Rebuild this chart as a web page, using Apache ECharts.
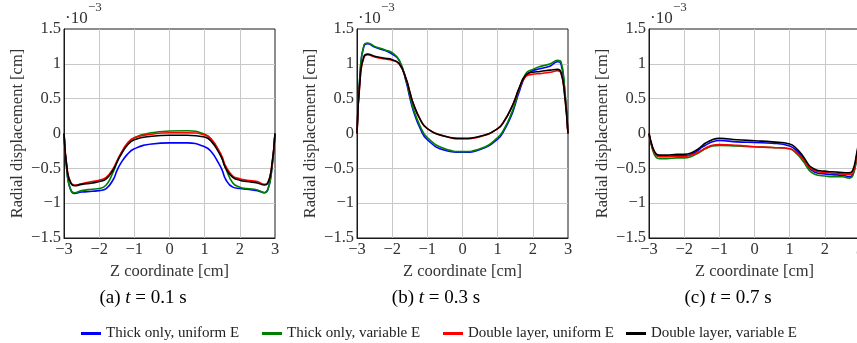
<!DOCTYPE html>
<html>
<head>
<meta charset="utf-8">
<script src="https://cdn.jsdelivr.net/npm/echarts@6/dist/echarts.min.js"></script>
<style>
html,body{margin:0;padding:0;background:#fff;}
#chart{width:857px;height:343px;}
</style>
</head>
<body>
<div id="chart"></div>
<script>
// Z coordinate samples [cm]
const zCoord = [-3, -2.9, -2.8, -2.7, -2.5, -2.2, -2, -1.8, -1.6, -1.5, -1.4, -1.2, -1, -0.5, 0, 0.5, 1, 1.2, 1.4, 1.5, 1.6, 1.8, 2, 2.2, 2.5, 2.7, 2.8, 2.9, 3];

// Radial displacement [1e-3 cm], panel (a) t = 0.1 s
const aThickUniform   = [0, -0.62, -0.82, -0.86, -0.84, -0.83, -0.82, -0.79, -0.66, -0.54, -0.44, -0.30, -0.22, -0.15, -0.135, -0.135, -0.19, -0.27, -0.43, -0.53, -0.66, -0.77, -0.79, -0.80, -0.82, -0.85, -0.80, -0.55, 0];
const aThickVariable  = [0, -0.62, -0.82, -0.85, -0.82, -0.80, -0.79, -0.74, -0.55, -0.42, -0.31, -0.15, -0.06, 0.01, 0.035, 0.04, -0.01, -0.09, -0.25, -0.36, -0.50, -0.71, -0.77, -0.79, -0.81, -0.85, -0.80, -0.55, 0];
const aDoubleUniform  = [0, -0.55, -0.71, -0.74, -0.72, -0.69, -0.67, -0.63, -0.50, -0.40, -0.30, -0.14, -0.06, -0.01, 0.01, 0.01, -0.02, -0.09, -0.24, -0.34, -0.47, -0.61, -0.65, -0.67, -0.69, -0.73, -0.70, -0.50, 0];
const aDoubleVariable = [0, -0.56, -0.72, -0.75, -0.73, -0.71, -0.69, -0.65, -0.52, -0.42, -0.32, -0.17, -0.09, -0.04, -0.025, -0.025, -0.05, -0.12, -0.27, -0.37, -0.50, -0.63, -0.67, -0.69, -0.71, -0.74, -0.71, -0.50, 0];

// panel (b) t = 0.3 s
const bThickUniform   = [0, 0.95, 1.26, 1.29, 1.24, 1.19, 1.14, 1.05, 0.74, 0.52, 0.33, 0.07, -0.09, -0.24, -0.27, -0.23, -0.08, 0.06, 0.27, 0.42, 0.58, 0.83, 0.90, 0.93, 0.97, 1.03, 1.00, 0.65, 0];
const bThickVariable  = [0, 0.96, 1.27, 1.30, 1.25, 1.20, 1.16, 1.05, 0.76, 0.55, 0.36, 0.10, -0.06, -0.22, -0.26, -0.22, -0.06, 0.08, 0.30, 0.44, 0.62, 0.86, 0.92, 0.96, 1.00, 1.05, 1.03, 0.68, 0];
const bDoubleUniform  = [0, 0.85, 1.10, 1.13, 1.10, 1.07, 1.05, 1.00, 0.78, 0.60, 0.43, 0.20, 0.07, -0.04, -0.075, -0.045, 0.07, 0.19, 0.38, 0.50, 0.63, 0.82, 0.85, 0.86, 0.88, 0.90, 0.87, 0.58, 0];
const bDoubleVariable = [0, 0.86, 1.11, 1.14, 1.11, 1.08, 1.06, 1.00, 0.78, 0.60, 0.43, 0.20, 0.07, -0.04, -0.07, -0.04, 0.07, 0.19, 0.38, 0.50, 0.64, 0.84, 0.88, 0.89, 0.91, 0.92, 0.88, 0.58, 0];

// panel (c) t = 0.7 s
const cThickUniform   = [0, -0.21, -0.31, -0.33, -0.33, -0.32, -0.32, -0.30, -0.24, -0.20, -0.17, -0.12, -0.10, -0.12, -0.13, -0.14, -0.18, -0.25, -0.37, -0.45, -0.52, -0.57, -0.58, -0.59, -0.60, -0.62, -0.58, -0.35, 0];
const cThickVariable  = [0, -0.23, -0.34, -0.36, -0.36, -0.35, -0.35, -0.33, -0.28, -0.25, -0.22, -0.18, -0.17, -0.18, -0.19, -0.20, -0.22, -0.29, -0.41, -0.49, -0.55, -0.60, -0.61, -0.62, -0.62, -0.64, -0.60, -0.38, 0];
const cDoubleUniform  = [0, -0.21, -0.31, -0.33, -0.33, -0.33, -0.33, -0.31, -0.27, -0.24, -0.21, -0.17, -0.16, -0.17, -0.19, -0.20, -0.22, -0.28, -0.38, -0.45, -0.50, -0.55, -0.56, -0.57, -0.58, -0.59, -0.56, -0.34, 0];
const cDoubleVariable = [0, -0.19, -0.29, -0.31, -0.31, -0.30, -0.30, -0.28, -0.22, -0.18, -0.14, -0.09, -0.07, -0.09, -0.105, -0.12, -0.15, -0.22, -0.34, -0.42, -0.48, -0.53, -0.54, -0.55, -0.56, -0.565, -0.52, -0.30, 0];

const seriesNames = ['Thick only, uniform E', 'Thick only, variable E', 'Double layer, uniform E', 'Double layer, variable E'];
const seriesColors = ['#0000ff', '#008000', '#ff0000', '#000000'];
const captions = [['(a) ', 't', ' = 0.1 s'], ['(b) ', 't', ' = 0.3 s'], ['(c) ', 't', ' = 0.7 s']];
const xTicks = { min: -3, max: 3, interval: 1 };
const yTicks = { min: -1.5, max: 1.5, interval: 0.5 };

const panels = [
  [aThickUniform, aThickVariable, aDoubleUniform, aDoubleVariable],
  [bThickUniform, bThickVariable, bDoubleUniform, bDoubleVariable],
  [cThickUniform, cThickVariable, cDoubleUniform, cDoubleVariable]
];

const FONT = '"Liberation Serif", "DejaVu Serif", serif';
const gridLeft = [64, 357, 649];
const gridW = 211, gridTop = 29, gridH = 209;
const captionX = [143, 436, 728];
const legendLeft = [81, 262, 443, 626];

const fmt = v => (v < 0 ? '\u2212' + Math.abs(v) : String(v));

const grids = [], xAxes = [], yAxes = [], series = [], graphics = [];
panels.forEach((p, i) => {
  grids.push({ left: gridLeft[i], top: gridTop, width: gridW, height: gridH, show: true, borderColor: '#1a1a1a', borderWidth: 1, backgroundColor: 'transparent', containLabel: false, outerBoundsMode: 'none' });
  xAxes.push({
    type: 'value', gridIndex: i, min: xTicks.min, max: xTicks.max, interval: xTicks.interval,
    name: 'Z coordinate [cm]', nameLocation: 'middle', nameGap: 22,
    nameTextStyle: { fontFamily: FONT, fontSize: 16.5, color: '#333' },
    axisLine: { show: true, onZero: false, lineStyle: { color: '#1a1a1a', width: 1 } },
    axisTick: { show: false },
    axisLabel: { formatter: fmt, fontFamily: FONT, fontSize: 16.5, color: '#333', margin: 3, showMinLabel: true, showMaxLabel: true },
    splitLine: { show: true, showMinLine: false, showMaxLine: false, lineStyle: { color: '#c8c8c8', width: 1 } }
  });
  yAxes.push({
    type: 'value', gridIndex: i, min: yTicks.min, max: yTicks.max, interval: yTicks.interval,
    name: 'Radial displacement [cm]', nameLocation: 'middle', nameGap: 38,
    nameTextStyle: { fontFamily: FONT, fontSize: 16.5, color: '#333' },
    axisLine: { show: true, onZero: false, lineStyle: { color: '#1a1a1a', width: 1 } },
    axisTick: { show: false },
    axisLabel: { formatter: fmt, fontFamily: FONT, fontSize: 16.5, color: '#333', margin: 3, showMinLabel: true, showMaxLabel: true },
    splitLine: { show: true, showMinLine: false, showMaxLine: false, lineStyle: { color: '#c8c8c8', width: 1 } }
  });
  p.forEach((vals, k) => {
    series.push({
      type: 'line', name: seriesNames[k], xAxisIndex: i, yAxisIndex: i,
      data: zCoord.map((z, j) => [z, vals[j]]),
      showSymbol: false, smooth: 0.5,
      color: seriesColors[k],
      lineStyle: { color: seriesColors[k], width: 1.6 },
      emphasis: { disabled: true }, animation: false
    });
  });
  // exponent marker
  graphics.push({ type: 'text', left: gridLeft[i] + 1, top: 10, style: { text: '\u00b710', font: '17px ' + FONT, fill: '#333' } });
  graphics.push({ type: 'text', left: gridLeft[i] + 24, top: 1, style: { text: '\u22123', font: '13px ' + FONT, fill: '#333' } });
  // caption
  graphics.push({
    type: 'text', x: captionX[i], y: 298,
    style: {
      text: '{r|' + captions[i][0] + '}{it|' + captions[i][1] + '}{r|' + captions[i][2] + '}',
      align: 'center', verticalAlign: 'middle',
      rich: {
        r: { fontFamily: FONT, fontSize: 19, color: '#222' },
        it: { fontFamily: FONT, fontSize: 19, fontStyle: 'italic', color: '#222' }
      }
    }
  });
});

const legends = seriesNames.map((n, k) => ({
  data: [n], left: legendLeft[k], top: 326, padding: 0, icon: 'rect', itemWidth: 20, itemHeight: 3,
  selectedMode: false,
  textStyle: { fontFamily: FONT, fontSize: 15, color: '#222' }
}));

const chart = echarts.init(document.getElementById('chart'), null, { renderer: 'canvas' });
chart.setOption({
  backgroundColor: '#fff',
  animation: false,
  grid: grids, xAxis: xAxes, yAxis: yAxes, series: series,
  legend: legends,
  graphic: graphics
});
</script>
</body>
</html>
